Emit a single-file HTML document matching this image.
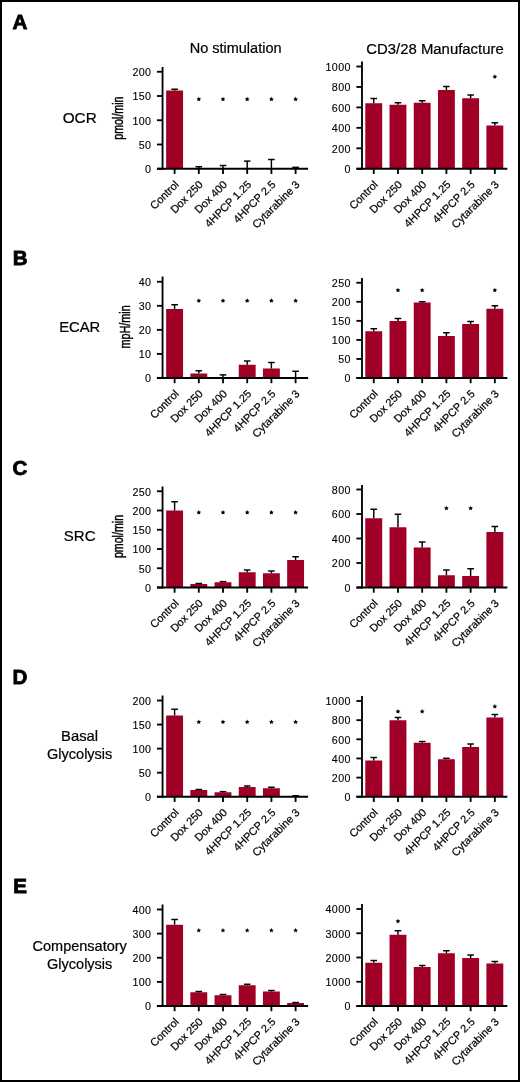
<!DOCTYPE html>
<html><head><meta charset="utf-8"><style>
html,body{margin:0;padding:0;background:#fff;}
body{width:520px;height:1082px;overflow:hidden;}
svg{display:block;will-change:transform;}
text{font-family:"Liberation Sans", sans-serif;fill:#000;stroke:#000;stroke-width:0.22px;}
</style></head><body>
<svg width="520" height="1082" viewBox="0 0 520 1082">
<rect x="1" y="1" width="518" height="1080" fill="none" stroke="#000" stroke-width="2"/>
<text x="12.5" y="29.4" font-size="20.6" font-weight="bold" style="stroke-width:0.8px">A</text>
<text x="12.7" y="265.2" font-size="20.6" font-weight="bold" style="stroke-width:0.8px">B</text>
<text x="12.6" y="475.0" font-size="20.6" font-weight="bold" style="stroke-width:0.8px">C</text>
<text x="12.5" y="683.9" font-size="20.6" font-weight="bold" style="stroke-width:0.8px">D</text>
<text x="13.2" y="893.1" font-size="20.6" font-weight="bold" style="stroke-width:0.8px">E</text>
<text x="235.6" y="53" text-anchor="middle" font-size="14.5">No stimulation</text>
<text x="435" y="54" text-anchor="middle" font-size="14.9">CD3/28 Manufacture</text>
<text x="79.7" y="122.5" text-anchor="middle" font-size="15.3">OCR</text>
<text x="79.7" y="331.7" text-anchor="middle" font-size="14.8">ECAR</text>
<text x="79.7" y="541.3" text-anchor="middle" font-size="15.0">SRC</text>
<text x="79.6" y="741.2" text-anchor="middle" font-size="14.8">Basal</text>
<text x="79.7" y="759.4" text-anchor="middle" font-size="14.5">Glycolysis</text>
<text x="79.7" y="950.7" text-anchor="middle" font-size="14.5">Compensatory</text>
<text x="79.7" y="969.1" text-anchor="middle" font-size="14.5">Glycolysis</text>
<rect x="166.15" y="90.50" width="16.9" height="78.25" fill="#A00026"/>
<line x1="174.60" y1="90.50" x2="174.60" y2="89.25" stroke="#000" stroke-width="1.45"/>
<line x1="171.30" y1="89.25" x2="177.90" y2="89.25" stroke="#000" stroke-width="1.45"/>
<rect x="190.35" y="168.00" width="16.9" height="0.75" fill="#A00026"/>
<line x1="198.80" y1="168.00" x2="198.80" y2="166.75" stroke="#000" stroke-width="1.45"/>
<line x1="195.50" y1="166.75" x2="202.10" y2="166.75" stroke="#000" stroke-width="1.45"/>
<rect x="214.55" y="168.30" width="16.9" height="0.45" fill="#A00026"/>
<line x1="223.00" y1="168.30" x2="223.00" y2="165.50" stroke="#000" stroke-width="1.45"/>
<line x1="219.70" y1="165.50" x2="226.30" y2="165.50" stroke="#000" stroke-width="1.45"/>
<rect x="238.75" y="168.30" width="16.9" height="0.45" fill="#A00026"/>
<line x1="247.20" y1="168.30" x2="247.20" y2="161.10" stroke="#000" stroke-width="1.45"/>
<line x1="243.90" y1="161.10" x2="250.50" y2="161.10" stroke="#000" stroke-width="1.45"/>
<rect x="262.95" y="168.30" width="16.9" height="0.45" fill="#A00026"/>
<line x1="271.40" y1="168.30" x2="271.40" y2="159.50" stroke="#000" stroke-width="1.45"/>
<line x1="268.10" y1="159.50" x2="274.70" y2="159.50" stroke="#000" stroke-width="1.45"/>
<rect x="287.15" y="168.00" width="16.9" height="0.75" fill="#A00026"/>
<line x1="295.60" y1="168.00" x2="295.60" y2="167.30" stroke="#000" stroke-width="1.45"/>
<line x1="292.30" y1="167.30" x2="298.90" y2="167.30" stroke="#000" stroke-width="1.45"/>
<line x1="162.55" y1="67.00" x2="162.55" y2="169.68" stroke="#000" stroke-width="1.85"/>
<line x1="156.95" y1="168.75" x2="308.10" y2="168.75" stroke="#000" stroke-width="1.85"/>
<line x1="156.95" y1="168.75" x2="162.55" y2="168.75" stroke="#000" stroke-width="1.85"/>
<text x="151.45" y="173.05" text-anchor="end" font-size="10.7" letter-spacing="0.4" style="stroke-width:0.12px">0</text>
<line x1="156.95" y1="144.50" x2="162.55" y2="144.50" stroke="#000" stroke-width="1.85"/>
<text x="151.45" y="148.80" text-anchor="end" font-size="10.7" letter-spacing="0.4" style="stroke-width:0.12px">50</text>
<line x1="156.95" y1="120.25" x2="162.55" y2="120.25" stroke="#000" stroke-width="1.85"/>
<text x="151.45" y="124.55" text-anchor="end" font-size="10.7" letter-spacing="0.4" style="stroke-width:0.12px">100</text>
<line x1="156.95" y1="96.00" x2="162.55" y2="96.00" stroke="#000" stroke-width="1.85"/>
<text x="151.45" y="100.30" text-anchor="end" font-size="10.7" letter-spacing="0.4" style="stroke-width:0.12px">150</text>
<line x1="156.95" y1="71.75" x2="162.55" y2="71.75" stroke="#000" stroke-width="1.85"/>
<text x="151.45" y="76.05" text-anchor="end" font-size="10.7" letter-spacing="0.4" style="stroke-width:0.12px">200</text>
<line x1="174.60" y1="168.75" x2="174.60" y2="173.95" stroke="#000" stroke-width="1.85"/>
<line x1="198.80" y1="168.75" x2="198.80" y2="173.95" stroke="#000" stroke-width="1.85"/>
<line x1="223.00" y1="168.75" x2="223.00" y2="173.95" stroke="#000" stroke-width="1.85"/>
<line x1="247.20" y1="168.75" x2="247.20" y2="173.95" stroke="#000" stroke-width="1.85"/>
<line x1="271.40" y1="168.75" x2="271.40" y2="173.95" stroke="#000" stroke-width="1.85"/>
<line x1="295.60" y1="168.75" x2="295.60" y2="173.95" stroke="#000" stroke-width="1.85"/>
<text x="179.40" y="185.25" text-anchor="end" font-size="10.9" transform="rotate(-45 179.40 185.25)">Control</text>
<text x="203.60" y="185.25" text-anchor="end" font-size="10.9" transform="rotate(-45 203.60 185.25)">Dox 250</text>
<text x="227.80" y="185.25" text-anchor="end" font-size="10.9" transform="rotate(-45 227.80 185.25)">Dox 400</text>
<text x="252.00" y="185.25" text-anchor="end" font-size="10.9" transform="rotate(-45 252.00 185.25)">4HPCP 1.25</text>
<text x="276.20" y="185.25" text-anchor="end" font-size="10.9" transform="rotate(-45 276.20 185.25)">4HPCP 2.5</text>
<text x="300.40" y="185.25" text-anchor="end" font-size="10.9" transform="rotate(-45 300.40 185.25)">Cytarabine 3</text>
<polygon points="198.80,96.85 199.52,98.31 201.13,98.54 199.97,99.68 200.24,101.28 198.80,100.52 197.36,101.28 197.63,99.68 196.47,98.54 198.08,98.31" fill="#000"/>
<polygon points="223.00,96.85 223.72,98.31 225.33,98.54 224.17,99.68 224.44,101.28 223.00,100.52 221.56,101.28 221.83,99.68 220.67,98.54 222.28,98.31" fill="#000"/>
<polygon points="247.20,96.85 247.92,98.31 249.53,98.54 248.37,99.68 248.64,101.28 247.20,100.52 245.76,101.28 246.03,99.68 244.87,98.54 246.48,98.31" fill="#000"/>
<polygon points="271.40,96.85 272.12,98.31 273.73,98.54 272.57,99.68 272.84,101.28 271.40,100.52 269.96,101.28 270.23,99.68 269.07,98.54 270.68,98.31" fill="#000"/>
<polygon points="295.60,96.85 296.32,98.31 297.93,98.54 296.77,99.68 297.04,101.28 295.60,100.52 294.16,101.28 294.43,99.68 293.27,98.54 294.88,98.31" fill="#000"/>
<text x="0" y="0" text-anchor="middle" font-size="14.5" style="stroke-width:0.45px" transform="translate(122.60 118.10) rotate(-90) scale(0.735 1)">pmol/min</text><rect x="365.30" y="103.25" width="16.9" height="65.50" fill="#A00026"/>
<line x1="373.75" y1="103.25" x2="373.75" y2="98.50" stroke="#000" stroke-width="1.45"/>
<line x1="370.45" y1="98.50" x2="377.05" y2="98.50" stroke="#000" stroke-width="1.45"/>
<rect x="389.52" y="104.75" width="16.9" height="64.00" fill="#A00026"/>
<line x1="397.97" y1="104.75" x2="397.97" y2="102.75" stroke="#000" stroke-width="1.45"/>
<line x1="394.67" y1="102.75" x2="401.27" y2="102.75" stroke="#000" stroke-width="1.45"/>
<rect x="413.74" y="102.75" width="16.9" height="66.00" fill="#A00026"/>
<line x1="422.19" y1="102.75" x2="422.19" y2="100.75" stroke="#000" stroke-width="1.45"/>
<line x1="418.89" y1="100.75" x2="425.49" y2="100.75" stroke="#000" stroke-width="1.45"/>
<rect x="437.96" y="90.00" width="16.9" height="78.75" fill="#A00026"/>
<line x1="446.41" y1="90.00" x2="446.41" y2="86.50" stroke="#000" stroke-width="1.45"/>
<line x1="443.11" y1="86.50" x2="449.71" y2="86.50" stroke="#000" stroke-width="1.45"/>
<rect x="462.18" y="98.25" width="16.9" height="70.50" fill="#A00026"/>
<line x1="470.63" y1="98.25" x2="470.63" y2="95.00" stroke="#000" stroke-width="1.45"/>
<line x1="467.33" y1="95.00" x2="473.93" y2="95.00" stroke="#000" stroke-width="1.45"/>
<rect x="486.40" y="125.50" width="16.9" height="43.25" fill="#A00026"/>
<line x1="494.85" y1="125.50" x2="494.85" y2="122.75" stroke="#000" stroke-width="1.45"/>
<line x1="491.55" y1="122.75" x2="498.15" y2="122.75" stroke="#000" stroke-width="1.45"/>
<line x1="362.00" y1="61.50" x2="362.00" y2="169.68" stroke="#000" stroke-width="1.85"/>
<line x1="356.40" y1="168.75" x2="507.35" y2="168.75" stroke="#000" stroke-width="1.85"/>
<line x1="356.40" y1="168.75" x2="362.00" y2="168.75" stroke="#000" stroke-width="1.85"/>
<text x="350.90" y="173.05" text-anchor="end" font-size="10.7" letter-spacing="0.4" style="stroke-width:0.12px">0</text>
<line x1="356.40" y1="148.30" x2="362.00" y2="148.30" stroke="#000" stroke-width="1.85"/>
<text x="350.90" y="152.60" text-anchor="end" font-size="10.7" letter-spacing="0.4" style="stroke-width:0.12px">200</text>
<line x1="356.40" y1="127.85" x2="362.00" y2="127.85" stroke="#000" stroke-width="1.85"/>
<text x="350.90" y="132.15" text-anchor="end" font-size="10.7" letter-spacing="0.4" style="stroke-width:0.12px">400</text>
<line x1="356.40" y1="107.40" x2="362.00" y2="107.40" stroke="#000" stroke-width="1.85"/>
<text x="350.90" y="111.70" text-anchor="end" font-size="10.7" letter-spacing="0.4" style="stroke-width:0.12px">600</text>
<line x1="356.40" y1="86.95" x2="362.00" y2="86.95" stroke="#000" stroke-width="1.85"/>
<text x="350.90" y="91.25" text-anchor="end" font-size="10.7" letter-spacing="0.4" style="stroke-width:0.12px">800</text>
<line x1="356.40" y1="66.50" x2="362.00" y2="66.50" stroke="#000" stroke-width="1.85"/>
<text x="350.90" y="70.80" text-anchor="end" font-size="10.7" letter-spacing="0.4" style="stroke-width:0.12px">1000</text>
<line x1="373.75" y1="168.75" x2="373.75" y2="173.95" stroke="#000" stroke-width="1.85"/>
<line x1="397.97" y1="168.75" x2="397.97" y2="173.95" stroke="#000" stroke-width="1.85"/>
<line x1="422.19" y1="168.75" x2="422.19" y2="173.95" stroke="#000" stroke-width="1.85"/>
<line x1="446.41" y1="168.75" x2="446.41" y2="173.95" stroke="#000" stroke-width="1.85"/>
<line x1="470.63" y1="168.75" x2="470.63" y2="173.95" stroke="#000" stroke-width="1.85"/>
<line x1="494.85" y1="168.75" x2="494.85" y2="173.95" stroke="#000" stroke-width="1.85"/>
<text x="378.55" y="185.25" text-anchor="end" font-size="10.9" transform="rotate(-45 378.55 185.25)">Control</text>
<text x="402.77" y="185.25" text-anchor="end" font-size="10.9" transform="rotate(-45 402.77 185.25)">Dox 250</text>
<text x="426.99" y="185.25" text-anchor="end" font-size="10.9" transform="rotate(-45 426.99 185.25)">Dox 400</text>
<text x="451.21" y="185.25" text-anchor="end" font-size="10.9" transform="rotate(-45 451.21 185.25)">4HPCP 1.25</text>
<text x="475.43" y="185.25" text-anchor="end" font-size="10.9" transform="rotate(-45 475.43 185.25)">4HPCP 2.5</text>
<text x="499.65" y="185.25" text-anchor="end" font-size="10.9" transform="rotate(-45 499.65 185.25)">Cytarabine 3</text>
<polygon points="494.85,74.35 495.57,75.81 497.18,76.04 496.02,77.18 496.29,78.78 494.85,78.02 493.41,78.78 493.68,77.18 492.52,76.04 494.13,75.81" fill="#000"/><rect x="166.15" y="309.00" width="16.9" height="69.00" fill="#A00026"/>
<line x1="174.60" y1="309.00" x2="174.60" y2="304.75" stroke="#000" stroke-width="1.45"/>
<line x1="171.30" y1="304.75" x2="177.90" y2="304.75" stroke="#000" stroke-width="1.45"/>
<rect x="190.35" y="373.50" width="16.9" height="4.50" fill="#A00026"/>
<line x1="198.80" y1="373.50" x2="198.80" y2="370.75" stroke="#000" stroke-width="1.45"/>
<line x1="195.50" y1="370.75" x2="202.10" y2="370.75" stroke="#000" stroke-width="1.45"/>
<rect x="214.55" y="377.50" width="16.9" height="0.50" fill="#A00026"/>
<line x1="223.00" y1="377.50" x2="223.00" y2="374.90" stroke="#000" stroke-width="1.45"/>
<line x1="219.70" y1="374.90" x2="226.30" y2="374.90" stroke="#000" stroke-width="1.45"/>
<rect x="238.75" y="364.75" width="16.9" height="13.25" fill="#A00026"/>
<line x1="247.20" y1="364.75" x2="247.20" y2="361.00" stroke="#000" stroke-width="1.45"/>
<line x1="243.90" y1="361.00" x2="250.50" y2="361.00" stroke="#000" stroke-width="1.45"/>
<rect x="262.95" y="368.50" width="16.9" height="9.50" fill="#A00026"/>
<line x1="271.40" y1="368.50" x2="271.40" y2="362.50" stroke="#000" stroke-width="1.45"/>
<line x1="268.10" y1="362.50" x2="274.70" y2="362.50" stroke="#000" stroke-width="1.45"/>
<rect x="287.15" y="377.50" width="16.9" height="0.50" fill="#A00026"/>
<line x1="295.60" y1="377.50" x2="295.60" y2="371.25" stroke="#000" stroke-width="1.45"/>
<line x1="292.30" y1="371.25" x2="298.90" y2="371.25" stroke="#000" stroke-width="1.45"/>
<line x1="162.55" y1="276.50" x2="162.55" y2="378.93" stroke="#000" stroke-width="1.85"/>
<line x1="156.95" y1="378.00" x2="308.10" y2="378.00" stroke="#000" stroke-width="1.85"/>
<line x1="156.95" y1="378.00" x2="162.55" y2="378.00" stroke="#000" stroke-width="1.85"/>
<text x="151.45" y="382.30" text-anchor="end" font-size="10.7" letter-spacing="0.4" style="stroke-width:0.12px">0</text>
<line x1="156.95" y1="353.94" x2="162.55" y2="353.94" stroke="#000" stroke-width="1.85"/>
<text x="151.45" y="358.24" text-anchor="end" font-size="10.7" letter-spacing="0.4" style="stroke-width:0.12px">10</text>
<line x1="156.95" y1="329.88" x2="162.55" y2="329.88" stroke="#000" stroke-width="1.85"/>
<text x="151.45" y="334.18" text-anchor="end" font-size="10.7" letter-spacing="0.4" style="stroke-width:0.12px">20</text>
<line x1="156.95" y1="305.81" x2="162.55" y2="305.81" stroke="#000" stroke-width="1.85"/>
<text x="151.45" y="310.11" text-anchor="end" font-size="10.7" letter-spacing="0.4" style="stroke-width:0.12px">30</text>
<line x1="156.95" y1="281.75" x2="162.55" y2="281.75" stroke="#000" stroke-width="1.85"/>
<text x="151.45" y="286.05" text-anchor="end" font-size="10.7" letter-spacing="0.4" style="stroke-width:0.12px">40</text>
<line x1="174.60" y1="378.00" x2="174.60" y2="383.20" stroke="#000" stroke-width="1.85"/>
<line x1="198.80" y1="378.00" x2="198.80" y2="383.20" stroke="#000" stroke-width="1.85"/>
<line x1="223.00" y1="378.00" x2="223.00" y2="383.20" stroke="#000" stroke-width="1.85"/>
<line x1="247.20" y1="378.00" x2="247.20" y2="383.20" stroke="#000" stroke-width="1.85"/>
<line x1="271.40" y1="378.00" x2="271.40" y2="383.20" stroke="#000" stroke-width="1.85"/>
<line x1="295.60" y1="378.00" x2="295.60" y2="383.20" stroke="#000" stroke-width="1.85"/>
<text x="179.40" y="394.50" text-anchor="end" font-size="10.9" transform="rotate(-45 179.40 394.50)">Control</text>
<text x="203.60" y="394.50" text-anchor="end" font-size="10.9" transform="rotate(-45 203.60 394.50)">Dox 250</text>
<text x="227.80" y="394.50" text-anchor="end" font-size="10.9" transform="rotate(-45 227.80 394.50)">Dox 400</text>
<text x="252.00" y="394.50" text-anchor="end" font-size="10.9" transform="rotate(-45 252.00 394.50)">4HPCP 1.25</text>
<text x="276.20" y="394.50" text-anchor="end" font-size="10.9" transform="rotate(-45 276.20 394.50)">4HPCP 2.5</text>
<text x="300.40" y="394.50" text-anchor="end" font-size="10.9" transform="rotate(-45 300.40 394.50)">Cytarabine 3</text>
<polygon points="198.80,298.30 199.52,299.76 201.13,299.99 199.97,301.13 200.24,302.73 198.80,301.98 197.36,302.73 197.63,301.13 196.47,299.99 198.08,299.76" fill="#000"/>
<polygon points="223.00,298.30 223.72,299.76 225.33,299.99 224.17,301.13 224.44,302.73 223.00,301.98 221.56,302.73 221.83,301.13 220.67,299.99 222.28,299.76" fill="#000"/>
<polygon points="247.20,298.30 247.92,299.76 249.53,299.99 248.37,301.13 248.64,302.73 247.20,301.98 245.76,302.73 246.03,301.13 244.87,299.99 246.48,299.76" fill="#000"/>
<polygon points="271.40,298.30 272.12,299.76 273.73,299.99 272.57,301.13 272.84,302.73 271.40,301.98 269.96,302.73 270.23,301.13 269.07,299.99 270.68,299.76" fill="#000"/>
<polygon points="295.60,298.30 296.32,299.76 297.93,299.99 296.77,301.13 297.04,302.73 295.60,301.98 294.16,302.73 294.43,301.13 293.27,299.99 294.88,299.76" fill="#000"/>
<text x="0" y="0" text-anchor="middle" font-size="14.5" style="stroke-width:0.45px" transform="translate(129.80 326.90) rotate(-90) scale(0.745 1)">mpH/min</text><rect x="365.30" y="331.25" width="16.9" height="46.75" fill="#A00026"/>
<line x1="373.75" y1="331.25" x2="373.75" y2="328.75" stroke="#000" stroke-width="1.45"/>
<line x1="370.45" y1="328.75" x2="377.05" y2="328.75" stroke="#000" stroke-width="1.45"/>
<rect x="389.52" y="321.00" width="16.9" height="57.00" fill="#A00026"/>
<line x1="397.97" y1="321.00" x2="397.97" y2="318.50" stroke="#000" stroke-width="1.45"/>
<line x1="394.67" y1="318.50" x2="401.27" y2="318.50" stroke="#000" stroke-width="1.45"/>
<rect x="413.74" y="302.50" width="16.9" height="75.50" fill="#A00026"/>
<line x1="422.19" y1="302.50" x2="422.19" y2="301.75" stroke="#000" stroke-width="1.45"/>
<line x1="418.89" y1="301.75" x2="425.49" y2="301.75" stroke="#000" stroke-width="1.45"/>
<rect x="437.96" y="336.00" width="16.9" height="42.00" fill="#A00026"/>
<line x1="446.41" y1="336.00" x2="446.41" y2="332.75" stroke="#000" stroke-width="1.45"/>
<line x1="443.11" y1="332.75" x2="449.71" y2="332.75" stroke="#000" stroke-width="1.45"/>
<rect x="462.18" y="324.00" width="16.9" height="54.00" fill="#A00026"/>
<line x1="470.63" y1="324.00" x2="470.63" y2="321.50" stroke="#000" stroke-width="1.45"/>
<line x1="467.33" y1="321.50" x2="473.93" y2="321.50" stroke="#000" stroke-width="1.45"/>
<rect x="486.40" y="308.75" width="16.9" height="69.25" fill="#A00026"/>
<line x1="494.85" y1="308.75" x2="494.85" y2="305.75" stroke="#000" stroke-width="1.45"/>
<line x1="491.55" y1="305.75" x2="498.15" y2="305.75" stroke="#000" stroke-width="1.45"/>
<line x1="362.00" y1="278.00" x2="362.00" y2="378.93" stroke="#000" stroke-width="1.85"/>
<line x1="356.40" y1="378.00" x2="507.35" y2="378.00" stroke="#000" stroke-width="1.85"/>
<line x1="356.40" y1="378.00" x2="362.00" y2="378.00" stroke="#000" stroke-width="1.85"/>
<text x="350.90" y="382.30" text-anchor="end" font-size="10.7" letter-spacing="0.4" style="stroke-width:0.12px">0</text>
<line x1="356.40" y1="358.95" x2="362.00" y2="358.95" stroke="#000" stroke-width="1.85"/>
<text x="350.90" y="363.25" text-anchor="end" font-size="10.7" letter-spacing="0.4" style="stroke-width:0.12px">50</text>
<line x1="356.40" y1="339.90" x2="362.00" y2="339.90" stroke="#000" stroke-width="1.85"/>
<text x="350.90" y="344.20" text-anchor="end" font-size="10.7" letter-spacing="0.4" style="stroke-width:0.12px">100</text>
<line x1="356.40" y1="320.85" x2="362.00" y2="320.85" stroke="#000" stroke-width="1.85"/>
<text x="350.90" y="325.15" text-anchor="end" font-size="10.7" letter-spacing="0.4" style="stroke-width:0.12px">150</text>
<line x1="356.40" y1="301.80" x2="362.00" y2="301.80" stroke="#000" stroke-width="1.85"/>
<text x="350.90" y="306.10" text-anchor="end" font-size="10.7" letter-spacing="0.4" style="stroke-width:0.12px">200</text>
<line x1="356.40" y1="282.75" x2="362.00" y2="282.75" stroke="#000" stroke-width="1.85"/>
<text x="350.90" y="287.05" text-anchor="end" font-size="10.7" letter-spacing="0.4" style="stroke-width:0.12px">250</text>
<line x1="373.75" y1="378.00" x2="373.75" y2="383.20" stroke="#000" stroke-width="1.85"/>
<line x1="397.97" y1="378.00" x2="397.97" y2="383.20" stroke="#000" stroke-width="1.85"/>
<line x1="422.19" y1="378.00" x2="422.19" y2="383.20" stroke="#000" stroke-width="1.85"/>
<line x1="446.41" y1="378.00" x2="446.41" y2="383.20" stroke="#000" stroke-width="1.85"/>
<line x1="470.63" y1="378.00" x2="470.63" y2="383.20" stroke="#000" stroke-width="1.85"/>
<line x1="494.85" y1="378.00" x2="494.85" y2="383.20" stroke="#000" stroke-width="1.85"/>
<text x="378.55" y="394.50" text-anchor="end" font-size="10.9" transform="rotate(-45 378.55 394.50)">Control</text>
<text x="402.77" y="394.50" text-anchor="end" font-size="10.9" transform="rotate(-45 402.77 394.50)">Dox 250</text>
<text x="426.99" y="394.50" text-anchor="end" font-size="10.9" transform="rotate(-45 426.99 394.50)">Dox 400</text>
<text x="451.21" y="394.50" text-anchor="end" font-size="10.9" transform="rotate(-45 451.21 394.50)">4HPCP 1.25</text>
<text x="475.43" y="394.50" text-anchor="end" font-size="10.9" transform="rotate(-45 475.43 394.50)">4HPCP 2.5</text>
<text x="499.65" y="394.50" text-anchor="end" font-size="10.9" transform="rotate(-45 499.65 394.50)">Cytarabine 3</text>
<polygon points="397.97,287.80 398.69,289.26 400.30,289.49 399.14,290.63 399.41,292.23 397.97,291.48 396.53,292.23 396.80,290.63 395.64,289.49 397.25,289.26" fill="#000"/>
<polygon points="422.19,287.80 422.91,289.26 424.52,289.49 423.36,290.63 423.63,292.23 422.19,291.48 420.75,292.23 421.02,290.63 419.86,289.49 421.47,289.26" fill="#000"/>
<polygon points="494.85,287.80 495.57,289.26 497.18,289.49 496.02,290.63 496.29,292.23 494.85,291.48 493.41,292.23 493.68,290.63 492.52,289.49 494.13,289.26" fill="#000"/><rect x="166.15" y="510.50" width="16.9" height="77.00" fill="#A00026"/>
<line x1="174.60" y1="510.50" x2="174.60" y2="501.75" stroke="#000" stroke-width="1.45"/>
<line x1="171.30" y1="501.75" x2="177.90" y2="501.75" stroke="#000" stroke-width="1.45"/>
<rect x="190.35" y="584.00" width="16.9" height="3.50" fill="#A00026"/>
<line x1="198.80" y1="584.00" x2="198.80" y2="583.50" stroke="#000" stroke-width="1.45"/>
<line x1="195.50" y1="583.50" x2="202.10" y2="583.50" stroke="#000" stroke-width="1.45"/>
<rect x="214.55" y="582.25" width="16.9" height="5.25" fill="#A00026"/>
<line x1="223.00" y1="582.25" x2="223.00" y2="581.60" stroke="#000" stroke-width="1.45"/>
<line x1="219.70" y1="581.60" x2="226.30" y2="581.60" stroke="#000" stroke-width="1.45"/>
<rect x="238.75" y="572.25" width="16.9" height="15.25" fill="#A00026"/>
<line x1="247.20" y1="572.25" x2="247.20" y2="570.00" stroke="#000" stroke-width="1.45"/>
<line x1="243.90" y1="570.00" x2="250.50" y2="570.00" stroke="#000" stroke-width="1.45"/>
<rect x="262.95" y="573.25" width="16.9" height="14.25" fill="#A00026"/>
<line x1="271.40" y1="573.25" x2="271.40" y2="571.00" stroke="#000" stroke-width="1.45"/>
<line x1="268.10" y1="571.00" x2="274.70" y2="571.00" stroke="#000" stroke-width="1.45"/>
<rect x="287.15" y="560.00" width="16.9" height="27.50" fill="#A00026"/>
<line x1="295.60" y1="560.00" x2="295.60" y2="556.75" stroke="#000" stroke-width="1.45"/>
<line x1="292.30" y1="556.75" x2="298.90" y2="556.75" stroke="#000" stroke-width="1.45"/>
<line x1="162.55" y1="486.50" x2="162.55" y2="588.42" stroke="#000" stroke-width="1.85"/>
<line x1="156.95" y1="587.50" x2="308.10" y2="587.50" stroke="#000" stroke-width="1.85"/>
<line x1="156.95" y1="587.50" x2="162.55" y2="587.50" stroke="#000" stroke-width="1.85"/>
<text x="151.45" y="591.80" text-anchor="end" font-size="10.7" letter-spacing="0.4" style="stroke-width:0.12px">0</text>
<line x1="156.95" y1="568.25" x2="162.55" y2="568.25" stroke="#000" stroke-width="1.85"/>
<text x="151.45" y="572.55" text-anchor="end" font-size="10.7" letter-spacing="0.4" style="stroke-width:0.12px">50</text>
<line x1="156.95" y1="549.00" x2="162.55" y2="549.00" stroke="#000" stroke-width="1.85"/>
<text x="151.45" y="553.30" text-anchor="end" font-size="10.7" letter-spacing="0.4" style="stroke-width:0.12px">100</text>
<line x1="156.95" y1="529.75" x2="162.55" y2="529.75" stroke="#000" stroke-width="1.85"/>
<text x="151.45" y="534.05" text-anchor="end" font-size="10.7" letter-spacing="0.4" style="stroke-width:0.12px">150</text>
<line x1="156.95" y1="510.50" x2="162.55" y2="510.50" stroke="#000" stroke-width="1.85"/>
<text x="151.45" y="514.80" text-anchor="end" font-size="10.7" letter-spacing="0.4" style="stroke-width:0.12px">200</text>
<line x1="156.95" y1="491.25" x2="162.55" y2="491.25" stroke="#000" stroke-width="1.85"/>
<text x="151.45" y="495.55" text-anchor="end" font-size="10.7" letter-spacing="0.4" style="stroke-width:0.12px">250</text>
<line x1="174.60" y1="587.50" x2="174.60" y2="592.70" stroke="#000" stroke-width="1.85"/>
<line x1="198.80" y1="587.50" x2="198.80" y2="592.70" stroke="#000" stroke-width="1.85"/>
<line x1="223.00" y1="587.50" x2="223.00" y2="592.70" stroke="#000" stroke-width="1.85"/>
<line x1="247.20" y1="587.50" x2="247.20" y2="592.70" stroke="#000" stroke-width="1.85"/>
<line x1="271.40" y1="587.50" x2="271.40" y2="592.70" stroke="#000" stroke-width="1.85"/>
<line x1="295.60" y1="587.50" x2="295.60" y2="592.70" stroke="#000" stroke-width="1.85"/>
<text x="179.40" y="604.00" text-anchor="end" font-size="10.9" transform="rotate(-45 179.40 604.00)">Control</text>
<text x="203.60" y="604.00" text-anchor="end" font-size="10.9" transform="rotate(-45 203.60 604.00)">Dox 250</text>
<text x="227.80" y="604.00" text-anchor="end" font-size="10.9" transform="rotate(-45 227.80 604.00)">Dox 400</text>
<text x="252.00" y="604.00" text-anchor="end" font-size="10.9" transform="rotate(-45 252.00 604.00)">4HPCP 1.25</text>
<text x="276.20" y="604.00" text-anchor="end" font-size="10.9" transform="rotate(-45 276.20 604.00)">4HPCP 2.5</text>
<text x="300.40" y="604.00" text-anchor="end" font-size="10.9" transform="rotate(-45 300.40 604.00)">Cytarabine 3</text>
<polygon points="198.80,510.05 199.52,511.51 201.13,511.74 199.97,512.88 200.24,514.48 198.80,513.73 197.36,514.48 197.63,512.88 196.47,511.74 198.08,511.51" fill="#000"/>
<polygon points="223.00,510.05 223.72,511.51 225.33,511.74 224.17,512.88 224.44,514.48 223.00,513.73 221.56,514.48 221.83,512.88 220.67,511.74 222.28,511.51" fill="#000"/>
<polygon points="247.20,510.05 247.92,511.51 249.53,511.74 248.37,512.88 248.64,514.48 247.20,513.73 245.76,514.48 246.03,512.88 244.87,511.74 246.48,511.51" fill="#000"/>
<polygon points="271.40,510.05 272.12,511.51 273.73,511.74 272.57,512.88 272.84,514.48 271.40,513.73 269.96,514.48 270.23,512.88 269.07,511.74 270.68,511.51" fill="#000"/>
<polygon points="295.60,510.05 296.32,511.51 297.93,511.74 296.77,512.88 297.04,514.48 295.60,513.73 294.16,514.48 294.43,512.88 293.27,511.74 294.88,511.51" fill="#000"/>
<text x="0" y="0" text-anchor="middle" font-size="14.5" style="stroke-width:0.45px" transform="translate(122.60 536.50) rotate(-90) scale(0.735 1)">pmol/min</text><rect x="365.30" y="518.25" width="16.9" height="69.25" fill="#A00026"/>
<line x1="373.75" y1="518.25" x2="373.75" y2="509.25" stroke="#000" stroke-width="1.45"/>
<line x1="370.45" y1="509.25" x2="377.05" y2="509.25" stroke="#000" stroke-width="1.45"/>
<rect x="389.52" y="527.25" width="16.9" height="60.25" fill="#A00026"/>
<line x1="397.97" y1="527.25" x2="397.97" y2="514.25" stroke="#000" stroke-width="1.45"/>
<line x1="394.67" y1="514.25" x2="401.27" y2="514.25" stroke="#000" stroke-width="1.45"/>
<rect x="413.74" y="547.50" width="16.9" height="40.00" fill="#A00026"/>
<line x1="422.19" y1="547.50" x2="422.19" y2="542.00" stroke="#000" stroke-width="1.45"/>
<line x1="418.89" y1="542.00" x2="425.49" y2="542.00" stroke="#000" stroke-width="1.45"/>
<rect x="437.96" y="575.25" width="16.9" height="12.25" fill="#A00026"/>
<line x1="446.41" y1="575.25" x2="446.41" y2="570.00" stroke="#000" stroke-width="1.45"/>
<line x1="443.11" y1="570.00" x2="449.71" y2="570.00" stroke="#000" stroke-width="1.45"/>
<rect x="462.18" y="576.00" width="16.9" height="11.50" fill="#A00026"/>
<line x1="470.63" y1="576.00" x2="470.63" y2="568.75" stroke="#000" stroke-width="1.45"/>
<line x1="467.33" y1="568.75" x2="473.93" y2="568.75" stroke="#000" stroke-width="1.45"/>
<rect x="486.40" y="532.00" width="16.9" height="55.50" fill="#A00026"/>
<line x1="494.85" y1="532.00" x2="494.85" y2="526.50" stroke="#000" stroke-width="1.45"/>
<line x1="491.55" y1="526.50" x2="498.15" y2="526.50" stroke="#000" stroke-width="1.45"/>
<line x1="362.00" y1="485.00" x2="362.00" y2="588.42" stroke="#000" stroke-width="1.85"/>
<line x1="356.40" y1="587.50" x2="507.35" y2="587.50" stroke="#000" stroke-width="1.85"/>
<line x1="356.40" y1="587.50" x2="362.00" y2="587.50" stroke="#000" stroke-width="1.85"/>
<text x="350.90" y="591.80" text-anchor="end" font-size="10.7" letter-spacing="0.4" style="stroke-width:0.12px">0</text>
<line x1="356.40" y1="563.00" x2="362.00" y2="563.00" stroke="#000" stroke-width="1.85"/>
<text x="350.90" y="567.30" text-anchor="end" font-size="10.7" letter-spacing="0.4" style="stroke-width:0.12px">200</text>
<line x1="356.40" y1="538.50" x2="362.00" y2="538.50" stroke="#000" stroke-width="1.85"/>
<text x="350.90" y="542.80" text-anchor="end" font-size="10.7" letter-spacing="0.4" style="stroke-width:0.12px">400</text>
<line x1="356.40" y1="514.00" x2="362.00" y2="514.00" stroke="#000" stroke-width="1.85"/>
<text x="350.90" y="518.30" text-anchor="end" font-size="10.7" letter-spacing="0.4" style="stroke-width:0.12px">600</text>
<line x1="356.40" y1="489.50" x2="362.00" y2="489.50" stroke="#000" stroke-width="1.85"/>
<text x="350.90" y="493.80" text-anchor="end" font-size="10.7" letter-spacing="0.4" style="stroke-width:0.12px">800</text>
<line x1="373.75" y1="587.50" x2="373.75" y2="592.70" stroke="#000" stroke-width="1.85"/>
<line x1="397.97" y1="587.50" x2="397.97" y2="592.70" stroke="#000" stroke-width="1.85"/>
<line x1="422.19" y1="587.50" x2="422.19" y2="592.70" stroke="#000" stroke-width="1.85"/>
<line x1="446.41" y1="587.50" x2="446.41" y2="592.70" stroke="#000" stroke-width="1.85"/>
<line x1="470.63" y1="587.50" x2="470.63" y2="592.70" stroke="#000" stroke-width="1.85"/>
<line x1="494.85" y1="587.50" x2="494.85" y2="592.70" stroke="#000" stroke-width="1.85"/>
<text x="378.55" y="604.00" text-anchor="end" font-size="10.9" transform="rotate(-45 378.55 604.00)">Control</text>
<text x="402.77" y="604.00" text-anchor="end" font-size="10.9" transform="rotate(-45 402.77 604.00)">Dox 250</text>
<text x="426.99" y="604.00" text-anchor="end" font-size="10.9" transform="rotate(-45 426.99 604.00)">Dox 400</text>
<text x="451.21" y="604.00" text-anchor="end" font-size="10.9" transform="rotate(-45 451.21 604.00)">4HPCP 1.25</text>
<text x="475.43" y="604.00" text-anchor="end" font-size="10.9" transform="rotate(-45 475.43 604.00)">4HPCP 2.5</text>
<text x="499.65" y="604.00" text-anchor="end" font-size="10.9" transform="rotate(-45 499.65 604.00)">Cytarabine 3</text>
<polygon points="446.41,505.80 447.13,507.26 448.74,507.49 447.58,508.63 447.85,510.23 446.41,509.48 444.97,510.23 445.24,508.63 444.08,507.49 445.69,507.26" fill="#000"/>
<polygon points="470.63,505.80 471.35,507.26 472.96,507.49 471.80,508.63 472.07,510.23 470.63,509.48 469.19,510.23 469.46,508.63 468.30,507.49 469.91,507.26" fill="#000"/><rect x="166.15" y="715.50" width="16.9" height="81.25" fill="#A00026"/>
<line x1="174.60" y1="715.50" x2="174.60" y2="709.25" stroke="#000" stroke-width="1.45"/>
<line x1="171.30" y1="709.25" x2="177.90" y2="709.25" stroke="#000" stroke-width="1.45"/>
<rect x="190.35" y="790.00" width="16.9" height="6.75" fill="#A00026"/>
<line x1="198.80" y1="790.00" x2="198.80" y2="789.50" stroke="#000" stroke-width="1.45"/>
<line x1="195.50" y1="789.50" x2="202.10" y2="789.50" stroke="#000" stroke-width="1.45"/>
<rect x="214.55" y="792.25" width="16.9" height="4.50" fill="#A00026"/>
<line x1="223.00" y1="792.25" x2="223.00" y2="791.60" stroke="#000" stroke-width="1.45"/>
<line x1="219.70" y1="791.60" x2="226.30" y2="791.60" stroke="#000" stroke-width="1.45"/>
<rect x="238.75" y="787.00" width="16.9" height="9.75" fill="#A00026"/>
<line x1="247.20" y1="787.00" x2="247.20" y2="786.00" stroke="#000" stroke-width="1.45"/>
<line x1="243.90" y1="786.00" x2="250.50" y2="786.00" stroke="#000" stroke-width="1.45"/>
<rect x="262.95" y="788.25" width="16.9" height="8.50" fill="#A00026"/>
<line x1="271.40" y1="788.25" x2="271.40" y2="787.25" stroke="#000" stroke-width="1.45"/>
<line x1="268.10" y1="787.25" x2="274.70" y2="787.25" stroke="#000" stroke-width="1.45"/>
<rect x="287.15" y="796.30" width="16.9" height="0.45" fill="#A00026"/>
<line x1="295.60" y1="796.30" x2="295.60" y2="795.75" stroke="#000" stroke-width="1.45"/>
<line x1="292.30" y1="795.75" x2="298.90" y2="795.75" stroke="#000" stroke-width="1.45"/>
<line x1="162.55" y1="695.50" x2="162.55" y2="797.67" stroke="#000" stroke-width="1.85"/>
<line x1="156.95" y1="796.75" x2="308.10" y2="796.75" stroke="#000" stroke-width="1.85"/>
<line x1="156.95" y1="796.75" x2="162.55" y2="796.75" stroke="#000" stroke-width="1.85"/>
<text x="151.45" y="801.05" text-anchor="end" font-size="10.7" letter-spacing="0.4" style="stroke-width:0.12px">0</text>
<line x1="156.95" y1="772.69" x2="162.55" y2="772.69" stroke="#000" stroke-width="1.85"/>
<text x="151.45" y="776.99" text-anchor="end" font-size="10.7" letter-spacing="0.4" style="stroke-width:0.12px">50</text>
<line x1="156.95" y1="748.62" x2="162.55" y2="748.62" stroke="#000" stroke-width="1.85"/>
<text x="151.45" y="752.92" text-anchor="end" font-size="10.7" letter-spacing="0.4" style="stroke-width:0.12px">100</text>
<line x1="156.95" y1="724.56" x2="162.55" y2="724.56" stroke="#000" stroke-width="1.85"/>
<text x="151.45" y="728.86" text-anchor="end" font-size="10.7" letter-spacing="0.4" style="stroke-width:0.12px">150</text>
<line x1="156.95" y1="700.50" x2="162.55" y2="700.50" stroke="#000" stroke-width="1.85"/>
<text x="151.45" y="704.80" text-anchor="end" font-size="10.7" letter-spacing="0.4" style="stroke-width:0.12px">200</text>
<line x1="174.60" y1="796.75" x2="174.60" y2="801.95" stroke="#000" stroke-width="1.85"/>
<line x1="198.80" y1="796.75" x2="198.80" y2="801.95" stroke="#000" stroke-width="1.85"/>
<line x1="223.00" y1="796.75" x2="223.00" y2="801.95" stroke="#000" stroke-width="1.85"/>
<line x1="247.20" y1="796.75" x2="247.20" y2="801.95" stroke="#000" stroke-width="1.85"/>
<line x1="271.40" y1="796.75" x2="271.40" y2="801.95" stroke="#000" stroke-width="1.85"/>
<line x1="295.60" y1="796.75" x2="295.60" y2="801.95" stroke="#000" stroke-width="1.85"/>
<text x="179.40" y="813.25" text-anchor="end" font-size="10.9" transform="rotate(-45 179.40 813.25)">Control</text>
<text x="203.60" y="813.25" text-anchor="end" font-size="10.9" transform="rotate(-45 203.60 813.25)">Dox 250</text>
<text x="227.80" y="813.25" text-anchor="end" font-size="10.9" transform="rotate(-45 227.80 813.25)">Dox 400</text>
<text x="252.00" y="813.25" text-anchor="end" font-size="10.9" transform="rotate(-45 252.00 813.25)">4HPCP 1.25</text>
<text x="276.20" y="813.25" text-anchor="end" font-size="10.9" transform="rotate(-45 276.20 813.25)">4HPCP 2.5</text>
<text x="300.40" y="813.25" text-anchor="end" font-size="10.9" transform="rotate(-45 300.40 813.25)">Cytarabine 3</text>
<polygon points="198.80,719.55 199.52,721.01 201.13,721.24 199.97,722.38 200.24,723.98 198.80,723.23 197.36,723.98 197.63,722.38 196.47,721.24 198.08,721.01" fill="#000"/>
<polygon points="223.00,719.55 223.72,721.01 225.33,721.24 224.17,722.38 224.44,723.98 223.00,723.23 221.56,723.98 221.83,722.38 220.67,721.24 222.28,721.01" fill="#000"/>
<polygon points="247.20,719.55 247.92,721.01 249.53,721.24 248.37,722.38 248.64,723.98 247.20,723.23 245.76,723.98 246.03,722.38 244.87,721.24 246.48,721.01" fill="#000"/>
<polygon points="271.40,719.55 272.12,721.01 273.73,721.24 272.57,722.38 272.84,723.98 271.40,723.23 269.96,723.98 270.23,722.38 269.07,721.24 270.68,721.01" fill="#000"/>
<polygon points="295.60,719.55 296.32,721.01 297.93,721.24 296.77,722.38 297.04,723.98 295.60,723.23 294.16,723.98 294.43,722.38 293.27,721.24 294.88,721.01" fill="#000"/><rect x="365.30" y="760.50" width="16.9" height="36.25" fill="#A00026"/>
<line x1="373.75" y1="760.50" x2="373.75" y2="757.50" stroke="#000" stroke-width="1.45"/>
<line x1="370.45" y1="757.50" x2="377.05" y2="757.50" stroke="#000" stroke-width="1.45"/>
<rect x="389.52" y="720.25" width="16.9" height="76.50" fill="#A00026"/>
<line x1="397.97" y1="720.25" x2="397.97" y2="717.50" stroke="#000" stroke-width="1.45"/>
<line x1="394.67" y1="717.50" x2="401.27" y2="717.50" stroke="#000" stroke-width="1.45"/>
<rect x="413.74" y="742.75" width="16.9" height="54.00" fill="#A00026"/>
<line x1="422.19" y1="742.75" x2="422.19" y2="741.50" stroke="#000" stroke-width="1.45"/>
<line x1="418.89" y1="741.50" x2="425.49" y2="741.50" stroke="#000" stroke-width="1.45"/>
<rect x="437.96" y="759.25" width="16.9" height="37.50" fill="#A00026"/>
<line x1="446.41" y1="759.25" x2="446.41" y2="758.30" stroke="#000" stroke-width="1.45"/>
<line x1="443.11" y1="758.30" x2="449.71" y2="758.30" stroke="#000" stroke-width="1.45"/>
<rect x="462.18" y="747.00" width="16.9" height="49.75" fill="#A00026"/>
<line x1="470.63" y1="747.00" x2="470.63" y2="744.00" stroke="#000" stroke-width="1.45"/>
<line x1="467.33" y1="744.00" x2="473.93" y2="744.00" stroke="#000" stroke-width="1.45"/>
<rect x="486.40" y="717.50" width="16.9" height="79.25" fill="#A00026"/>
<line x1="494.85" y1="717.50" x2="494.85" y2="714.50" stroke="#000" stroke-width="1.45"/>
<line x1="491.55" y1="714.50" x2="498.15" y2="714.50" stroke="#000" stroke-width="1.45"/>
<line x1="362.00" y1="696.00" x2="362.00" y2="797.67" stroke="#000" stroke-width="1.85"/>
<line x1="356.40" y1="796.75" x2="507.35" y2="796.75" stroke="#000" stroke-width="1.85"/>
<line x1="356.40" y1="796.75" x2="362.00" y2="796.75" stroke="#000" stroke-width="1.85"/>
<text x="350.90" y="801.05" text-anchor="end" font-size="10.7" letter-spacing="0.4" style="stroke-width:0.12px">0</text>
<line x1="356.40" y1="777.60" x2="362.00" y2="777.60" stroke="#000" stroke-width="1.85"/>
<text x="350.90" y="781.90" text-anchor="end" font-size="10.7" letter-spacing="0.4" style="stroke-width:0.12px">200</text>
<line x1="356.40" y1="758.45" x2="362.00" y2="758.45" stroke="#000" stroke-width="1.85"/>
<text x="350.90" y="762.75" text-anchor="end" font-size="10.7" letter-spacing="0.4" style="stroke-width:0.12px">400</text>
<line x1="356.40" y1="739.30" x2="362.00" y2="739.30" stroke="#000" stroke-width="1.85"/>
<text x="350.90" y="743.60" text-anchor="end" font-size="10.7" letter-spacing="0.4" style="stroke-width:0.12px">600</text>
<line x1="356.40" y1="720.15" x2="362.00" y2="720.15" stroke="#000" stroke-width="1.85"/>
<text x="350.90" y="724.45" text-anchor="end" font-size="10.7" letter-spacing="0.4" style="stroke-width:0.12px">800</text>
<line x1="356.40" y1="701.00" x2="362.00" y2="701.00" stroke="#000" stroke-width="1.85"/>
<text x="350.90" y="705.30" text-anchor="end" font-size="10.7" letter-spacing="0.4" style="stroke-width:0.12px">1000</text>
<line x1="373.75" y1="796.75" x2="373.75" y2="801.95" stroke="#000" stroke-width="1.85"/>
<line x1="397.97" y1="796.75" x2="397.97" y2="801.95" stroke="#000" stroke-width="1.85"/>
<line x1="422.19" y1="796.75" x2="422.19" y2="801.95" stroke="#000" stroke-width="1.85"/>
<line x1="446.41" y1="796.75" x2="446.41" y2="801.95" stroke="#000" stroke-width="1.85"/>
<line x1="470.63" y1="796.75" x2="470.63" y2="801.95" stroke="#000" stroke-width="1.85"/>
<line x1="494.85" y1="796.75" x2="494.85" y2="801.95" stroke="#000" stroke-width="1.85"/>
<text x="378.55" y="813.25" text-anchor="end" font-size="10.9" transform="rotate(-45 378.55 813.25)">Control</text>
<text x="402.77" y="813.25" text-anchor="end" font-size="10.9" transform="rotate(-45 402.77 813.25)">Dox 250</text>
<text x="426.99" y="813.25" text-anchor="end" font-size="10.9" transform="rotate(-45 426.99 813.25)">Dox 400</text>
<text x="451.21" y="813.25" text-anchor="end" font-size="10.9" transform="rotate(-45 451.21 813.25)">4HPCP 1.25</text>
<text x="475.43" y="813.25" text-anchor="end" font-size="10.9" transform="rotate(-45 475.43 813.25)">4HPCP 2.5</text>
<text x="499.65" y="813.25" text-anchor="end" font-size="10.9" transform="rotate(-45 499.65 813.25)">Cytarabine 3</text>
<polygon points="397.97,709.05 398.69,710.51 400.30,710.74 399.14,711.88 399.41,713.48 397.97,712.73 396.53,713.48 396.80,711.88 395.64,710.74 397.25,710.51" fill="#000"/>
<polygon points="422.19,709.05 422.91,710.51 424.52,710.74 423.36,711.88 423.63,713.48 422.19,712.73 420.75,713.48 421.02,711.88 419.86,710.74 421.47,710.51" fill="#000"/>
<polygon points="494.85,704.05 495.57,705.51 497.18,705.74 496.02,706.88 496.29,708.48 494.85,707.73 493.41,708.48 493.68,706.88 492.52,705.74 494.13,705.51" fill="#000"/><rect x="166.15" y="924.75" width="16.9" height="81.25" fill="#A00026"/>
<line x1="174.60" y1="924.75" x2="174.60" y2="919.50" stroke="#000" stroke-width="1.45"/>
<line x1="171.30" y1="919.50" x2="177.90" y2="919.50" stroke="#000" stroke-width="1.45"/>
<rect x="190.35" y="992.25" width="16.9" height="13.75" fill="#A00026"/>
<line x1="198.80" y1="992.25" x2="198.80" y2="991.50" stroke="#000" stroke-width="1.45"/>
<line x1="195.50" y1="991.50" x2="202.10" y2="991.50" stroke="#000" stroke-width="1.45"/>
<rect x="214.55" y="995.25" width="16.9" height="10.75" fill="#A00026"/>
<line x1="223.00" y1="995.25" x2="223.00" y2="994.50" stroke="#000" stroke-width="1.45"/>
<line x1="219.70" y1="994.50" x2="226.30" y2="994.50" stroke="#000" stroke-width="1.45"/>
<rect x="238.75" y="985.25" width="16.9" height="20.75" fill="#A00026"/>
<line x1="247.20" y1="985.25" x2="247.20" y2="984.25" stroke="#000" stroke-width="1.45"/>
<line x1="243.90" y1="984.25" x2="250.50" y2="984.25" stroke="#000" stroke-width="1.45"/>
<rect x="262.95" y="991.50" width="16.9" height="14.50" fill="#A00026"/>
<line x1="271.40" y1="991.50" x2="271.40" y2="990.50" stroke="#000" stroke-width="1.45"/>
<line x1="268.10" y1="990.50" x2="274.70" y2="990.50" stroke="#000" stroke-width="1.45"/>
<rect x="287.15" y="1003.00" width="16.9" height="3.00" fill="#A00026"/>
<line x1="295.60" y1="1003.00" x2="295.60" y2="1002.50" stroke="#000" stroke-width="1.45"/>
<line x1="292.30" y1="1002.50" x2="298.90" y2="1002.50" stroke="#000" stroke-width="1.45"/>
<line x1="162.55" y1="904.50" x2="162.55" y2="1006.92" stroke="#000" stroke-width="1.85"/>
<line x1="156.95" y1="1006.00" x2="308.10" y2="1006.00" stroke="#000" stroke-width="1.85"/>
<line x1="156.95" y1="1006.00" x2="162.55" y2="1006.00" stroke="#000" stroke-width="1.85"/>
<text x="151.45" y="1010.30" text-anchor="end" font-size="10.7" letter-spacing="0.4" style="stroke-width:0.12px">0</text>
<line x1="156.95" y1="981.88" x2="162.55" y2="981.88" stroke="#000" stroke-width="1.85"/>
<text x="151.45" y="986.17" text-anchor="end" font-size="10.7" letter-spacing="0.4" style="stroke-width:0.12px">100</text>
<line x1="156.95" y1="957.75" x2="162.55" y2="957.75" stroke="#000" stroke-width="1.85"/>
<text x="151.45" y="962.05" text-anchor="end" font-size="10.7" letter-spacing="0.4" style="stroke-width:0.12px">200</text>
<line x1="156.95" y1="933.62" x2="162.55" y2="933.62" stroke="#000" stroke-width="1.85"/>
<text x="151.45" y="937.92" text-anchor="end" font-size="10.7" letter-spacing="0.4" style="stroke-width:0.12px">300</text>
<line x1="156.95" y1="909.50" x2="162.55" y2="909.50" stroke="#000" stroke-width="1.85"/>
<text x="151.45" y="913.80" text-anchor="end" font-size="10.7" letter-spacing="0.4" style="stroke-width:0.12px">400</text>
<line x1="174.60" y1="1006.00" x2="174.60" y2="1011.20" stroke="#000" stroke-width="1.85"/>
<line x1="198.80" y1="1006.00" x2="198.80" y2="1011.20" stroke="#000" stroke-width="1.85"/>
<line x1="223.00" y1="1006.00" x2="223.00" y2="1011.20" stroke="#000" stroke-width="1.85"/>
<line x1="247.20" y1="1006.00" x2="247.20" y2="1011.20" stroke="#000" stroke-width="1.85"/>
<line x1="271.40" y1="1006.00" x2="271.40" y2="1011.20" stroke="#000" stroke-width="1.85"/>
<line x1="295.60" y1="1006.00" x2="295.60" y2="1011.20" stroke="#000" stroke-width="1.85"/>
<text x="179.40" y="1022.50" text-anchor="end" font-size="10.9" transform="rotate(-45 179.40 1022.50)">Control</text>
<text x="203.60" y="1022.50" text-anchor="end" font-size="10.9" transform="rotate(-45 203.60 1022.50)">Dox 250</text>
<text x="227.80" y="1022.50" text-anchor="end" font-size="10.9" transform="rotate(-45 227.80 1022.50)">Dox 400</text>
<text x="252.00" y="1022.50" text-anchor="end" font-size="10.9" transform="rotate(-45 252.00 1022.50)">4HPCP 1.25</text>
<text x="276.20" y="1022.50" text-anchor="end" font-size="10.9" transform="rotate(-45 276.20 1022.50)">4HPCP 2.5</text>
<text x="300.40" y="1022.50" text-anchor="end" font-size="10.9" transform="rotate(-45 300.40 1022.50)">Cytarabine 3</text>
<polygon points="198.80,927.95 199.52,929.41 201.13,929.64 199.97,930.78 200.24,932.38 198.80,931.62 197.36,932.38 197.63,930.78 196.47,929.64 198.08,929.41" fill="#000"/>
<polygon points="223.00,927.95 223.72,929.41 225.33,929.64 224.17,930.78 224.44,932.38 223.00,931.62 221.56,932.38 221.83,930.78 220.67,929.64 222.28,929.41" fill="#000"/>
<polygon points="247.20,927.95 247.92,929.41 249.53,929.64 248.37,930.78 248.64,932.38 247.20,931.62 245.76,932.38 246.03,930.78 244.87,929.64 246.48,929.41" fill="#000"/>
<polygon points="271.40,927.95 272.12,929.41 273.73,929.64 272.57,930.78 272.84,932.38 271.40,931.62 269.96,932.38 270.23,930.78 269.07,929.64 270.68,929.41" fill="#000"/>
<polygon points="295.60,927.95 296.32,929.41 297.93,929.64 296.77,930.78 297.04,932.38 295.60,931.62 294.16,932.38 294.43,930.78 293.27,929.64 294.88,929.41" fill="#000"/><rect x="365.30" y="962.75" width="16.9" height="43.25" fill="#A00026"/>
<line x1="373.75" y1="962.75" x2="373.75" y2="960.50" stroke="#000" stroke-width="1.45"/>
<line x1="370.45" y1="960.50" x2="377.05" y2="960.50" stroke="#000" stroke-width="1.45"/>
<rect x="389.52" y="934.75" width="16.9" height="71.25" fill="#A00026"/>
<line x1="397.97" y1="934.75" x2="397.97" y2="930.75" stroke="#000" stroke-width="1.45"/>
<line x1="394.67" y1="930.75" x2="401.27" y2="930.75" stroke="#000" stroke-width="1.45"/>
<rect x="413.74" y="967.00" width="16.9" height="39.00" fill="#A00026"/>
<line x1="422.19" y1="967.00" x2="422.19" y2="965.50" stroke="#000" stroke-width="1.45"/>
<line x1="418.89" y1="965.50" x2="425.49" y2="965.50" stroke="#000" stroke-width="1.45"/>
<rect x="437.96" y="953.25" width="16.9" height="52.75" fill="#A00026"/>
<line x1="446.41" y1="953.25" x2="446.41" y2="950.75" stroke="#000" stroke-width="1.45"/>
<line x1="443.11" y1="950.75" x2="449.71" y2="950.75" stroke="#000" stroke-width="1.45"/>
<rect x="462.18" y="958.00" width="16.9" height="48.00" fill="#A00026"/>
<line x1="470.63" y1="958.00" x2="470.63" y2="955.00" stroke="#000" stroke-width="1.45"/>
<line x1="467.33" y1="955.00" x2="473.93" y2="955.00" stroke="#000" stroke-width="1.45"/>
<rect x="486.40" y="963.50" width="16.9" height="42.50" fill="#A00026"/>
<line x1="494.85" y1="963.50" x2="494.85" y2="961.50" stroke="#000" stroke-width="1.45"/>
<line x1="491.55" y1="961.50" x2="498.15" y2="961.50" stroke="#000" stroke-width="1.45"/>
<line x1="362.00" y1="904.00" x2="362.00" y2="1006.92" stroke="#000" stroke-width="1.85"/>
<line x1="356.40" y1="1006.00" x2="507.35" y2="1006.00" stroke="#000" stroke-width="1.85"/>
<line x1="356.40" y1="1006.00" x2="362.00" y2="1006.00" stroke="#000" stroke-width="1.85"/>
<text x="350.90" y="1010.30" text-anchor="end" font-size="10.7" letter-spacing="0.4" style="stroke-width:0.12px">0</text>
<line x1="356.40" y1="981.75" x2="362.00" y2="981.75" stroke="#000" stroke-width="1.85"/>
<text x="350.90" y="986.05" text-anchor="end" font-size="10.7" letter-spacing="0.4" style="stroke-width:0.12px">1000</text>
<line x1="356.40" y1="957.50" x2="362.00" y2="957.50" stroke="#000" stroke-width="1.85"/>
<text x="350.90" y="961.80" text-anchor="end" font-size="10.7" letter-spacing="0.4" style="stroke-width:0.12px">2000</text>
<line x1="356.40" y1="933.25" x2="362.00" y2="933.25" stroke="#000" stroke-width="1.85"/>
<text x="350.90" y="937.55" text-anchor="end" font-size="10.7" letter-spacing="0.4" style="stroke-width:0.12px">3000</text>
<line x1="356.40" y1="909.00" x2="362.00" y2="909.00" stroke="#000" stroke-width="1.85"/>
<text x="350.90" y="913.30" text-anchor="end" font-size="10.7" letter-spacing="0.4" style="stroke-width:0.12px">4000</text>
<line x1="373.75" y1="1006.00" x2="373.75" y2="1011.20" stroke="#000" stroke-width="1.85"/>
<line x1="397.97" y1="1006.00" x2="397.97" y2="1011.20" stroke="#000" stroke-width="1.85"/>
<line x1="422.19" y1="1006.00" x2="422.19" y2="1011.20" stroke="#000" stroke-width="1.85"/>
<line x1="446.41" y1="1006.00" x2="446.41" y2="1011.20" stroke="#000" stroke-width="1.85"/>
<line x1="470.63" y1="1006.00" x2="470.63" y2="1011.20" stroke="#000" stroke-width="1.85"/>
<line x1="494.85" y1="1006.00" x2="494.85" y2="1011.20" stroke="#000" stroke-width="1.85"/>
<text x="378.55" y="1022.50" text-anchor="end" font-size="10.9" transform="rotate(-45 378.55 1022.50)">Control</text>
<text x="402.77" y="1022.50" text-anchor="end" font-size="10.9" transform="rotate(-45 402.77 1022.50)">Dox 250</text>
<text x="426.99" y="1022.50" text-anchor="end" font-size="10.9" transform="rotate(-45 426.99 1022.50)">Dox 400</text>
<text x="451.21" y="1022.50" text-anchor="end" font-size="10.9" transform="rotate(-45 451.21 1022.50)">4HPCP 1.25</text>
<text x="475.43" y="1022.50" text-anchor="end" font-size="10.9" transform="rotate(-45 475.43 1022.50)">4HPCP 2.5</text>
<text x="499.65" y="1022.50" text-anchor="end" font-size="10.9" transform="rotate(-45 499.65 1022.50)">Cytarabine 3</text>
<polygon points="397.97,918.80 398.69,920.26 400.30,920.49 399.14,921.63 399.41,923.23 397.97,922.48 396.53,923.23 396.80,921.63 395.64,920.49 397.25,920.26" fill="#000"/>
</svg>
</body></html>
